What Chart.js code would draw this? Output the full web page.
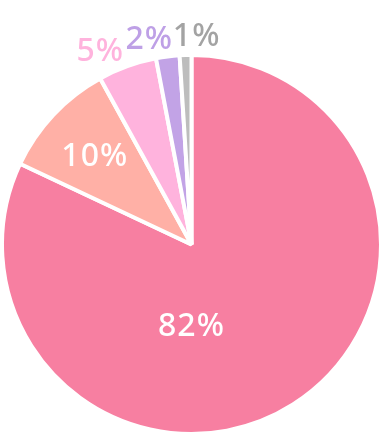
<!DOCTYPE html>
<html>
<head>
<meta charset="utf-8">
<script src="https://cdn.jsdelivr.net/npm/chart.js@4"></script>
<style>
    html, body { margin: 0; padding: 0; background: #fff; }
    #wrap { width: 384px; height: 438px; position: relative; }
</style>
</head>
<body>
<div id="wrap"><canvas id="pieChart"></canvas></div>
<script>
// Chart data
const labels = ['A', 'B', 'C', 'D', 'E'];
const values = [82, 10, 5, 2, 1];
const sliceColors = ['#F77FA1', '#FFB0A6', '#FFB3DD', '#C2A3E6', '#BDBDBD'];
const labelColors = ['#FFFFFF', '#FFFFFF', '#FFB3DD', '#BEA0E6', '#A3A3A3'];

// Draw the percentage labels at a chosen angle / radius of each slice
const pieLabels = {
    id: 'pieLabels',
    afterDatasetsDraw(chart, args, opts) {
        const ctx = chart.ctx;
        const meta = chart.getDatasetMeta(0);
        const total = values.reduce((a, b) => a + b, 0);
        ctx.save();
        ctx.font = opts.font;
        ctx.letterSpacing = opts.spacing;
        ctx.textAlign = 'center';
        ctx.textBaseline = 'middle';
        meta.data.forEach((arc, i) => {
            const spot = opts.spots[i];
            const mid = (arc.startAngle + arc.endAngle) / 2;
            const a = spot.angle !== undefined ? (spot.angle - 90) * Math.PI / 180 : mid;
            const r = arc.outerRadius * spot.r;
            const x = arc.x + Math.cos(a) * r;
            const y = arc.y + Math.sin(a) * r + opts.yShift;
            ctx.fillStyle = labelColors[i];
            ctx.fillText(Math.round(values[i] / total * 100) + '%', x, y);
        });
        ctx.restore();
    }
};

const ctx = document.getElementById('pieChart').getContext('2d');
const pieChart = new Chart(ctx, {
    type: 'pie',
    data: {
        labels: labels,
        datasets: [{
            data: values,
            backgroundColor: sliceColors,
            borderColor: '#FFFFFF',
            borderWidth: 4
        }]
    },
    options: {
        responsive: true,
        maintainAspectRatio: false,
        animation: false,
        layout: {
            padding: { top: 53, bottom: 2, right: 1 }
        },
        plugins: {
            legend: { display: false },
            tooltip: { enabled: false },
            pieLabels: {
                font: '500 32px "Noto Sans"',
                spacing: '1px',
                yShift: 3,
                spots: [
                    { angle: 180, r: 0.42 },
                    { r: 0.70 },
                    { angle: 335, r: 1.14 },
                    { angle: 348.5, r: 1.12 },
                    { angle: 1.4, r: 1.11 }
                ]
            }
        }
    },
    plugins: [pieLabels]
});
</script>
</body>
</html>
